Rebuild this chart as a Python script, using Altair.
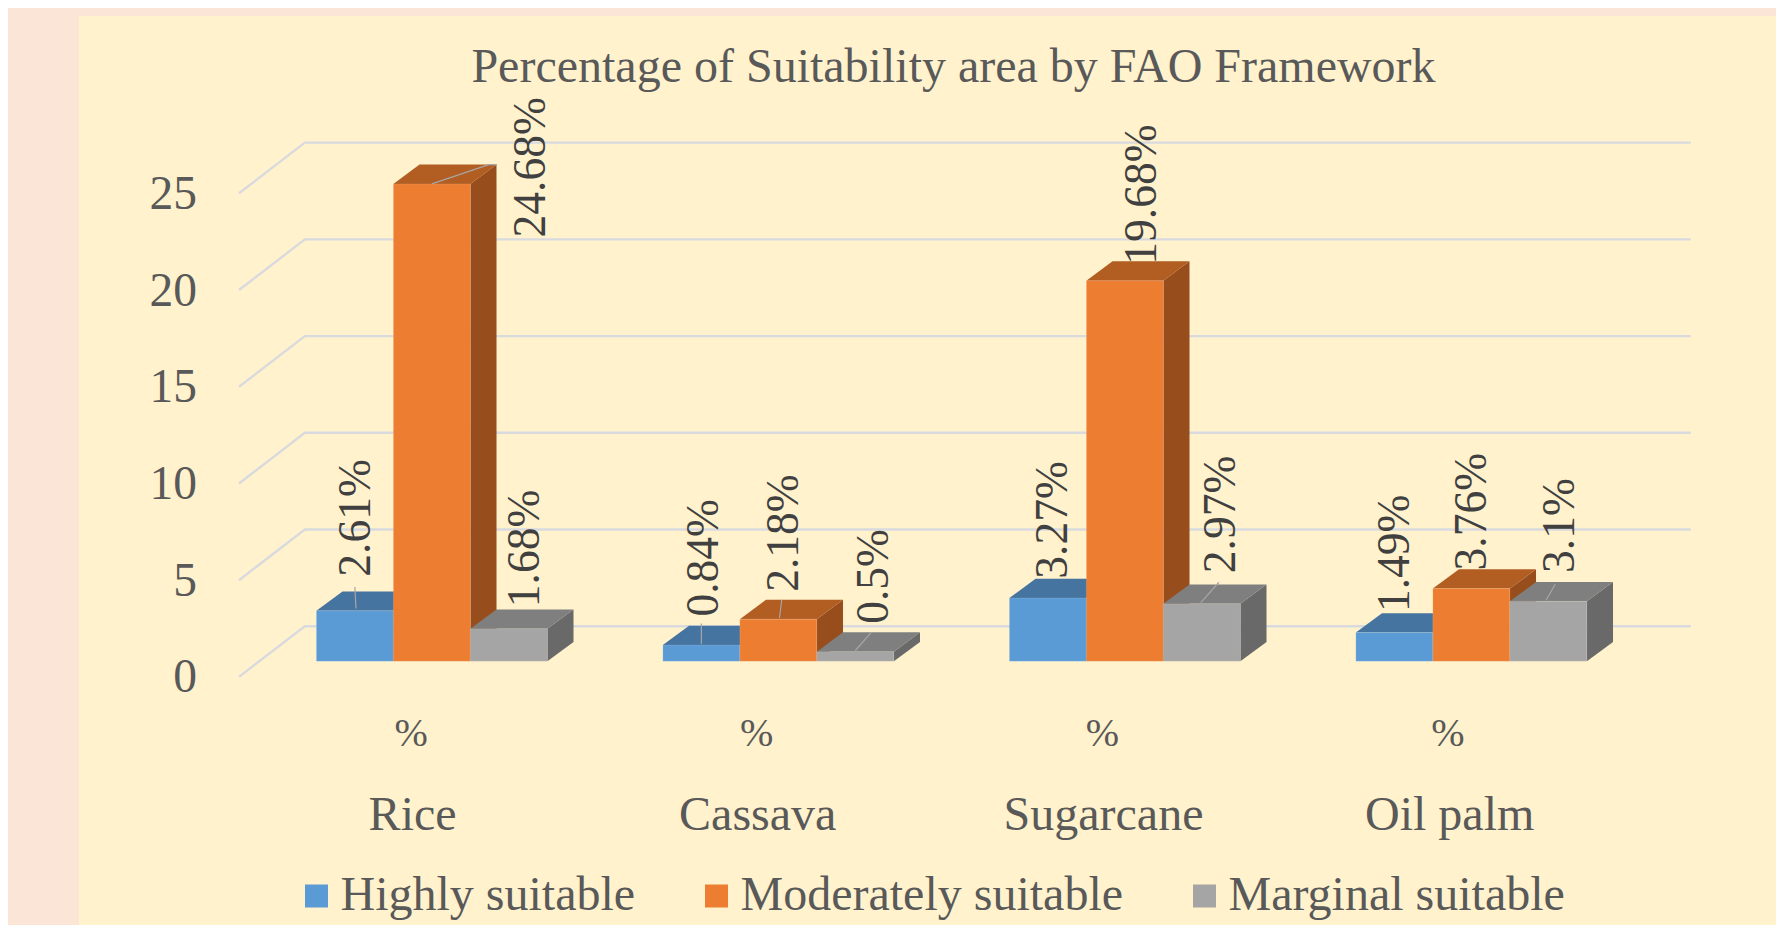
import altair as alt
import pandas as pd

# ---- values ----
crops = ["Rice", "Cassava", "Sugarcane", "Oil palm"]
series = ["Highly suitable", "Moderately suitable", "Marginal suitable"]
highly = [2.61, 0.84, 3.27, 1.49]
moderately = [24.68, 2.18, 19.68, 3.76]
marginal = [1.68, 0.5, 2.97, 3.1]
labels_high = ["2.61%", "0.84%", "3.27%", "1.49%"]
labels_mod = ["24.68%", "2.18%", "19.68%", "3.76%"]
labels_mar = ["1.68%", "0.5%", "2.97%", "3.1%"]
y_ticks = [0, 5, 10, 15, 20, 25]
title_text = "Percentage of Suitability area by FAO Framework"

# ---- styles ----
front = ["#5B9BD5", "#ED7D31", "#A5A5A5"]
top = ["#44749F", "#B25D22", "#7F7F7F"]
side = ["#396184", "#974E1C", "#696969"]
FONT = "Liberation Serif"
TXT = "#595959"
W, H = 1768, 917   # page keeps an 8px margin; the svg may not be wider than the body

# ---- geometry of the pseudo 3D box, in data units ----
PX_X = 346.5          # pixels per category
PX_Y = 19.343         # pixels per value unit
X0, Y0 = 231.0, 668.9 # front-left floor corner in pixels
SH = 1784 / 1568
ux = SH * 1 / PX_X    # one reference pixel in x units
uv = SH * 1 / PX_Y    # one reference pixel in value units
WALL_DX, WALL_DV = 0.19, 2.62
BAR_W = 1 / 4.5
BAR_DX, BAR_DV = 0.0755, 1.0
BASE_X, BASE_V = 0.0566, 0.806

x_scale = alt.Scale(domain=[(0 - X0) / PX_X, (W - X0) / PX_X], range=[0, W], nice=False, zero=False)
y_scale = alt.Scale(domain=[(Y0 - H) / PX_Y, Y0 / PX_Y], range=[H, 0], nice=False, zero=False)

values = [highly, moderately, marginal]
texts = [labels_high, labels_mod, labels_mar]

fronts, tops, sides = [], [], []
for s, name in enumerate(series):
    for c, crop in enumerate(crops):
        v = values[s][c]
        x1 = c + 0.5 - 1.5 * BAR_W + BASE_X + s * BAR_W
        x2 = x1 + BAR_W
        b, t = BASE_V, BASE_V + v
        fronts.append(dict(series=name, crop=crop, x1=x1, x2=x2, b=b, t=t))
        for px, lo, hi in [(x1, t, t), (x1 + BAR_DX, t, t + BAR_DV),
                           (x2, t, t + BAR_DV), (x2 + BAR_DX, t + BAR_DV, t + BAR_DV)]:
            tops.append(dict(series=name, crop=crop, x=px, lo=lo, hi=hi))
        for px, lo, hi in [(x2, b, t), (x2 + BAR_DX, b + BAR_DV, t + BAR_DV)]:
            sides.append(dict(series=name, crop=crop, x=px, lo=lo, hi=hi))
fronts, tops, sides = pd.DataFrame(fronts), pd.DataFrame(tops), pd.DataFrame(sides)

# data-label placement relative to (bar centre, top of front face), in reference pixels
label_dx = [[1, 2, 4.5, 0.5], [87.5, 5, 15.5, 0.5], [14.5, 16, 17, 10]]
label_dy = [[-30, -25, -17, -18], [47, -24, -14, -16], [-19, -24.5, -27, -25]]
# leader lines: (series, crop) -> points relative to the same anchor
leaders = {
    (0, 0): [(0, -21), (1, -2)],
    (1, 0): [(0, 0), (50, -17), (57, -17)],
    (0, 1): [(0, -19), (0, -1)],
    (1, 1): [(3, -17), (1, -1)],
    (2, 1): [(14, -17), (0, -1)],
    (2, 2): [(15, -19), (-1, -1)],
    (2, 3): [(6, -15), (-2, -1)],
}

label_rows, leader_rows = [], []
for s in range(3):
    for c in range(4):
        cx = c + 0.5 - 1.5 * BAR_W + BASE_X + s * BAR_W + BAR_W / 2
        t = BASE_V + values[s][c]
        label_rows.append(dict(x=cx + label_dx[s][c] * ux, v=t - label_dy[s][c] * uv, text=texts[s][c]))
        for i, (dx, dy) in enumerate(leaders.get((s, c), [])):
            leader_rows.append(dict(id=f"{s}-{c}", i=i, x=cx + dx * ux, v=t - dy * uv))
label_df, leader_df = pd.DataFrame(label_rows), pd.DataFrame(leader_rows)

grid_rows = []
for tick in y_ticks:
    for i, (px, pv) in enumerate([(0, tick), (WALL_DX, tick + WALL_DV), (4 + WALL_DX, tick + WALL_DV)]):
        grid_rows.append(dict(tick=tick, i=i, x=px, v=pv))
grid_df = pd.DataFrame(grid_rows)

X = lambda f: alt.X(f, type="quantitative", scale=x_scale, axis=None)
Y = lambda f: alt.Y(f, type="quantitative", scale=y_scale, axis=None, stack=None)

panel = alt.Chart(pd.DataFrame({"a": [0]})).mark_rect(
    color="#FFF2CC", strokeWidth=0
).encode(x=alt.value(71), x2=alt.value(W), y=alt.value(8), y2=alt.value(H))

grid = alt.Chart(grid_df).mark_line(color="#D8DADE", strokeWidth=2.4).encode(
    x=X("x"), y=Y("v"), detail="tick:N", order="i:Q")

# tick labels and category labels, placed through the same scales
ytick_df = pd.DataFrame({"x": [-0.1212] * len(y_ticks), "v": [t - 0.08 for t in y_ticks], "t": [str(t) for t in y_ticks]})
ytext = alt.Chart(ytick_df).mark_text(
    font=FONT, fontSize=47.5, color=TXT, baseline="middle", align="right"
).encode(x=X("x"), y=Y("v"), text="t:N")

cat_df = pd.DataFrame({"x": [0.501, 1.497, 2.495, 3.494], "v": [-7.18] * 4, "t": crops})
cats = alt.Chart(cat_df).mark_text(
    font=FONT, fontSize=48, color=TXT, baseline="middle", align="center"
).encode(x=X("x"), y=Y("v"), text="t:N")

pct_df = pd.DataFrame({"x": [0.497, 1.494, 2.492, 3.489], "v": [-2.95] * 4, "t": ["%"] * 4})
pct = alt.Chart(pct_df).mark_text(
    font=FONT, fontSize=40, color=TXT, baseline="middle", align="center"
).encode(x=X("x"), y=Y("v"), text="t:N")

data_labels = alt.Chart(label_df).mark_text(
    font=FONT, fontSize=45.5, color="#404040", angle=270, align="left", baseline="middle"
).encode(x=X("x"), y=Y("v"), text="text:N")

layers = [panel, grid, ytext, cats, pct, data_labels]
color_scale = alt.Scale(domain=series, range=front)
for s, name in enumerate(series):
    layers.append(alt.Chart(sides[sides.series == name]).mark_area(color=side[s]).encode(
        x=X("x"), y=Y("lo"), y2="hi:Q", detail="crop:N"))
    layers.append(alt.Chart(tops[tops.series == name]).mark_area(color=top[s], orient="vertical").encode(
        x=X("x"), y=Y("lo"), y2="hi:Q", detail="crop:N"))
    layers.append(alt.Chart(fronts[fronts.series == name]).mark_rect(
        stroke="#FFFFFF", strokeOpacity=0.12, strokeWidth=1
    ).encode(
        x=X("x1"), x2="x2:Q", y=Y("b"), y2="t:Q",
        color=alt.Color("series:N", scale=color_scale, legend=alt.Legend(
            title=None, orient="none", legendX=284.5, legendY=864, direction="horizontal", columns=3,
            symbolType="square", symbolSize=529, symbolStrokeWidth=0, labelFont=FONT, labelFontSize=48,
            labelColor=TXT, labelOffset=0, columnPadding=57, labelLimit=600, padding=0))))

lead = alt.Chart(leader_df).mark_line(color="#A6A6A6", strokeWidth=1.2).encode(
    x=X("x"), y=Y("v"), detail="id:N", order="i:Q")
layers.append(lead)

chart = alt.layer(*layers).resolve_scale(color="shared").properties(
    width=W, height=H, background="#FBE5D6", padding=0,
    autosize=alt.AutoSizeParams(type="none"),
    title=alt.TitleParams(title_text, font=FONT, fontSize=48, color=TXT, fontWeight="normal",
                          anchor="middle", dx=61.5, dy=84, offset=0),
).configure_view(stroke=None)

chart.save("out.html", embed_options={"renderer": "svg", "actions": False})
